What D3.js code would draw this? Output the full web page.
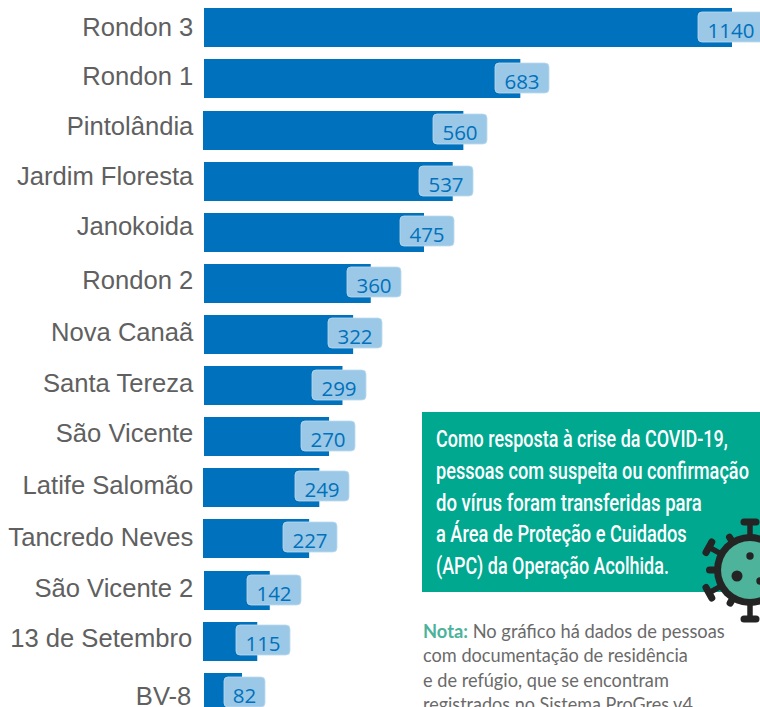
<!DOCTYPE html>
<html lang="pt-BR">
<head>
<meta charset="utf-8">
<script src="https://cdn.jsdelivr.net/npm/d3@7/dist/d3.min.js"></script>
<style>
html,body{margin:0;padding:0;background:#fff;overflow:hidden}
svg{display:block}
</style>
</head>
<body>
<svg id="chart" width="760" height="707"></svg>
<script>
// Data
const categories = ["Rondon 3","Rondon 1","Pintolândia","Jardim Floresta","Janokoida","Rondon 2","Nova Canaã","Santa Tereza","São Vicente","Latife Salomão","Tancredo Neves","São Vicente 2","13 de Setembro","BV-8"];
const values = [1140,683,560,537,475,360,322,299,270,249,227,142,115,82];
const bannerLines = ["Como resposta à crise da COVID-19,","pessoas com suspeita ou confirmação","do vírus foram transferidas para","a Área de Proteção e Cuidados","(APC) da Operação Acolhida."];
const noteLead = "Nota:";
const noteLines = [" No gráfico há dados de pessoas","com documentação de residência","e de refúgio, que se encontram","registrados no Sistema ProGres v4"];

// Hand-placed layout of the source artwork (per-row nudges, not data)
const rowNudge = [0,0,1,1,0,0,0,0,0,0,-1,0,0,0];
const barNudge = [0,0,-1,0,0,0,0,0,0,-1,-1,0,-1,0];
const pillShift = [-34,-25,-30,-34,-24,-24,-25,-30,-28,-24,-26,-23,-21,-18];
const pillDrop = [4,4,3,4,3,3,3,4,4,3,3,4,3,4];
const pillWidth = [66,54,54,54,54,54,54,54,54,54,54,54,54,41];
const labelBase = [28,26,24,23,22,25,26,26,25,26,27,26,25,32];
const labelInset = [10.7,10.7,10.7,10.7,10.7,10.7,10.7,10.7,10.7,10.7,10.7,10.7,11.7,12.7];
const bannerBase = [447,479,511,542,574];
const bannerEnd = [728,749,702,687,669];
const noteBase = [638,662,687,711];
const noteEnd = [725,688,669,693];

const svg = d3.select("#chart");
const step = 51.15, barH = 39, top0 = 8;
const x = d3.scaleLinear().domain([0,1140]).range([204,732]);
const y = d3.scaleBand().domain(categories)
  .range([top0, top0 + step*(categories.length-1) + barH])
  .paddingInner(1 - barH/step).paddingOuter(0);
const rowTop = i => Math.round(y(categories[i])) + rowNudge[i];

const BLUE = "#0071bc", PILL = "#9bc8e6", GREY = "#606060", TEAL = "#00a88f", NOTE = "#4cb39b", DARK = "#242424";

// Bars
svg.append("g").selectAll("rect").data(values).join("rect")
  .attr("x",(d,i)=>x(0)+barNudge[i])
  .attr("y",(d,i)=>rowTop(i))
  .attr("width",(d,i)=>x(d)-x(0)-barNudge[i])
  .attr("height",barH)
  .attr("fill",BLUE);

// Category axis
const axis = svg.append("g").attr("transform",`translate(${x(0)},0)`)
  .call(d3.axisLeft(y).tickSize(0));
axis.select(".domain").remove();
axis.selectAll(".tick text")
  .attr("x",(d,i)=>-labelInset[i])
  .attr("y",(d,i)=>rowTop(i)+labelBase[i]-y(d)-y.bandwidth()/2)
  .attr("dy",0)
  .attr("font-family","'Liberation Sans',Arial,sans-serif")
  .attr("font-size",25.6)
  .attr("fill",GREY);

// Value pills
const pills = svg.append("g").selectAll("g").data(values).join("g")
  .attr("transform",(d,i)=>`translate(${Math.round(x(d)+pillShift[i])},${rowTop(i)+pillDrop[i]})`);
pills.append("rect")
  .attr("width",(d,i)=>pillWidth[i]).attr("height",30).attr("rx",4)
  .attr("fill",PILL).attr("stroke","#bcdaef").attr("stroke-width",0.8);
pills.append("text")
  .attr("x",(d,i)=>pillWidth[i]/2).attr("y",26)
  .attr("text-anchor","middle")
  .attr("font-family","'Open Sans',sans-serif").attr("font-size",20.5)
  .attr("fill",BLUE)
  .text(d=>d);

// Fit a text line to an end position by horizontal scaling
function fit(t, x0, y0, x1){
  const w = t.node().getComputedTextLength();
  t.attr("transform",`translate(${x0},${y0}) scale(${(x1-x0)/w},1)`);
}

// Banner
svg.append("rect").attr("x",422).attr("y",412).attr("width",338).attr("height",180).attr("fill",TEAL);
svg.append("g").selectAll("text").data(bannerLines).join("text")
  .attr("font-family","Roboto,sans-serif").attr("font-weight",500).attr("font-size",24)
  .attr("fill","#fff")
  .text(d=>d)
  .each(function(d,i){ fit(d3.select(this),436,bannerBase[i],bannerEnd[i]); });

// Virus icon
const virus = svg.append("g").attr("transform","translate(750,570)");
const spikes = [[90,48],[122,42],[151,47],[180,44],[209,47],[239,42],[270,49],[300,42],[329,47],[0,44],[31,47],[58,42]];
spikes.forEach(([a,l])=>{
  const r = a*Math.PI/180, px = Math.cos(r)*l, py = -Math.sin(r)*l;
  if(l>=47){
    const nx = -Math.sin(r)*6, ny = -Math.cos(r)*6;
    virus.append("line").attr("x1",0).attr("y1",0).attr("x2",px).attr("y2",py)
      .attr("stroke",DARK).attr("stroke-width",5.5);
    virus.append("line").attr("x1",px-nx).attr("y1",py-ny).attr("x2",px+nx).attr("y2",py+ny)
      .attr("stroke",DARK).attr("stroke-width",7).attr("stroke-linecap","round");
  } else {
    virus.append("line").attr("x1",0).attr("y1",0).attr("x2",px*0.92).attr("y2",py*0.92)
      .attr("stroke",DARK).attr("stroke-width",7).attr("stroke-linecap","round");
  }
});
virus.append("circle").attr("r",36).attr("fill",DARK);
virus.append("circle").attr("r",29).attr("fill","#4db39a");
[[-13,6,5.5],[0,-14,3.7],[10,11,3.7]].forEach(([cx,cy,r])=>
  virus.append("circle").attr("cx",cx).attr("cy",cy).attr("r",r).attr("fill",DARK));

// Note
const note = svg.append("g").attr("font-family","Lato,sans-serif").attr("font-size",19).attr("fill","#6a6a6a");
noteLines.forEach((line,i)=>{
  const t = note.append("text").style("white-space","pre");
  if(i===0){
    t.append("tspan").attr("font-weight",700).attr("fill",NOTE).text(noteLead);
    t.append("tspan").text(line);
  } else t.text(line);
  fit(t,423,noteBase[i],noteEnd[i]);
});
</script>
</body>
</html>
